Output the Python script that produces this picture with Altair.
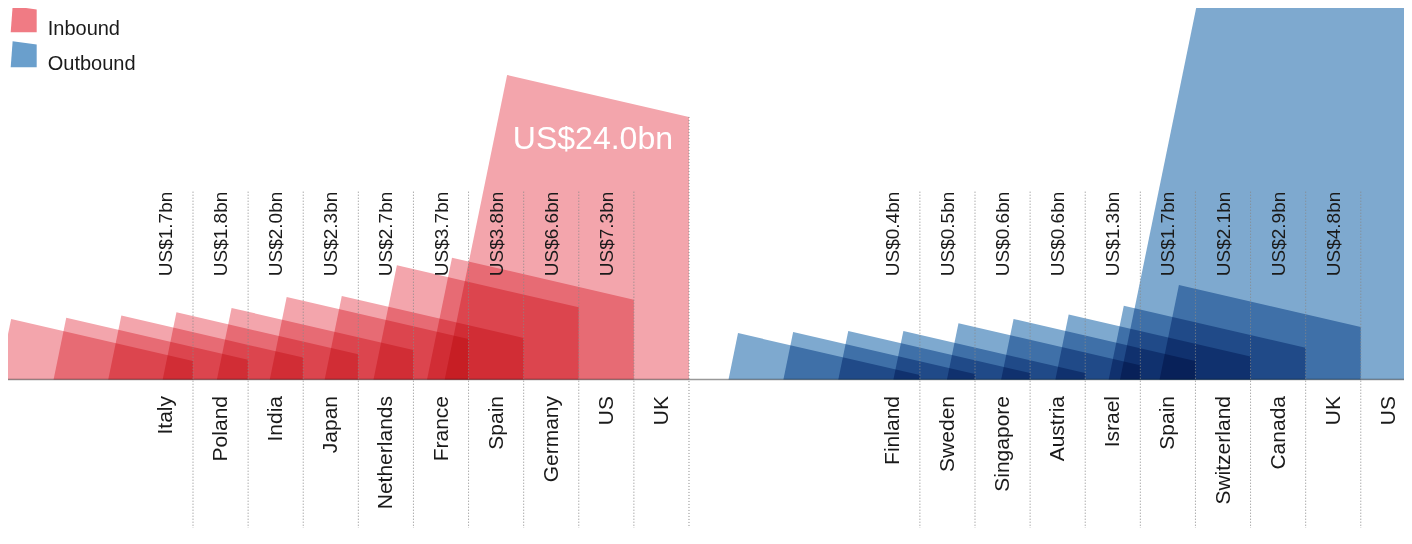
import altair as alt
import pandas as pd

# ---------------- data ----------------
inbound_countries = ["Italy", "Poland", "India", "Japan", "Netherlands",
                     "France", "Spain", "Germany", "US", "UK"]
inbound_values = [1.7, 1.8, 2.0, 2.3, 2.7, 3.7, 3.8, 6.6, 7.3, 24.0]

outbound_countries = ["Finland", "Sweden", "Singapore", "Austria", "Israel",
                      "Spain", "Switzerland", "Canada", "UK", "US"]
outbound_values = [0.4, 0.5, 0.6, 0.6, 1.3, 1.7, 2.1, 2.9, 4.8, 47.0]

flows = ["Inbound", "Outbound"]
shape_colors = ["#F3A5AC", "#7EA9CF"]
legend_colors = ["#F07B84", "#6A9FCC"]

# ---------------- layout ----------------
W, H = 1396, 520
UNIT_PX = 55.11          # pixels per slot
PX_PER_BN = 10.94        # pixels per US$bn
BASE_PX = 371.5          # baseline position in the plot
X0_PX = 129.89           # pixel of slot 0
X_DOMAIN = [-X0_PX / UNIT_PX, (W - X0_PX) / UNIT_PX]
Y_DOMAIN = [(BASE_PX - H) / PX_PER_BN, BASE_PX / PX_PER_BN]
GROUP_OFFSET = {"Inbound": 0.0, "Outbound": 13.19}
TOP_WIDTH = 3.30         # slots
DEPTH = 3.84             # extra height at the back edge (bn units)
SLANT = 0.205
LABEL_TOP_PX = 183.7
LABEL_TOP_V = (BASE_PX - LABEL_TOP_PX) / PX_PER_BN
FONT = "Liberation Sans"
TEXT = "#1a1a1a"

shape_rows, div_rows = [], []
for flow, cs, vs in [("Inbound", inbound_countries, inbound_values),
                     ("Outbound", outbound_countries, outbound_values)]:
    vmax = max(vs)
    for i, (c, v) in enumerate(zip(cs, vs)):
        xr = GROUP_OFFSET[flow] + i + 1
        xtl = xr - TOP_WIDTH
        hl = v + DEPTH
        xbl = xtl - SLANT * hl * PX_PER_BN / UNIT_PX
        key = f"{flow}-{i:02d}"
        for px, py in [(xbl, 0.0), (xtl, hl), (xr, v)]:
            shape_rows.append(dict(key=key, flow=flow, px=px, py=py, base=0.0))
        div_rows.append(dict(flow=flow, country=c, v=v, xr=xr,
                             ltop=max(v, LABEL_TOP_V),
                             label=f"US${v:.1f}bn", big=(v == vmax),
                             inside=(v < Y_DOMAIN[1] - 3)))

shapes = pd.DataFrame(shape_rows)
divs = pd.DataFrame(div_rows)
legend_df = pd.DataFrame({"flow": flows})

xs = alt.Scale(domain=X_DOMAIN, zero=False, nice=False)
ys = alt.Scale(domain=Y_DOMAIN, zero=False, nice=False)

legend = alt.Legend(
    title=None, orient="none", legendX=2.7, legendY=-1.8,
    symbolType="M-0.85,-1L1,-0.75L1,1L-1,1Z", symbolSize=676,
    symbolStrokeWidth=0, symbolOpacity=1,
    labelFontSize=20, labelFont=FONT, labelColor=TEXT,
    labelOffset=11, labelBaseline="top", rowPadding=2, padding=0,
)

baseline = alt.Chart(pd.DataFrame({"v": [0.0]})).mark_rule(
    color="#999999", strokeWidth=1.5
).encode(
    y=alt.Y("v:Q", scale=ys, axis=None),
    x=alt.value(0), x2=alt.value(W),
)

area = alt.Chart(shapes).mark_area(
    blend="multiply", interpolate="linear", opacity=1
).encode(
    x=alt.X("px:Q", scale=xs, axis=None),
    y=alt.Y("py:Q", scale=ys, axis=None, stack=None),
    y2=alt.Y2("base:Q"),
    color=alt.Color("flow:N", scale=alt.Scale(domain=flows, range=shape_colors), legend=None),
    detail="key:N",
)

legend_layer = alt.Chart(legend_df).mark_square(opacity=0, size=1).encode(
    x=alt.value(-50), y=alt.value(-50),
    color=alt.Color("flow:N", scale=alt.Scale(domain=flows, range=legend_colors), legend=legend),
)

dividers = alt.Chart(divs).mark_rule(
    strokeDash=[1, 2], color="#888888", strokeWidth=1
).encode(
    x=alt.X("xr:Q", scale=xs, axis=None),
    y=alt.Y("ltop:Q", scale=ys, axis=None),
    y2=alt.value(H),
)

value_labels = alt.Chart(divs).transform_filter("!datum.big").mark_text(
    angle=270, align="right", baseline="alphabetic", dy=-21,
    fontSize=19, font=FONT, color=TEXT
).encode(
    x=alt.X("xr:Q", scale=xs, axis=None),
    y=alt.value(LABEL_TOP_PX),
    text="label:N",
)

country_labels = alt.Chart(divs).mark_text(
    angle=270, align="right", baseline="alphabetic", dy=-21,
    fontSize=21, font=FONT, color=TEXT
).encode(
    x=alt.X("xr:Q", scale=xs, axis=None),
    y=alt.value(388),
    text="country:N",
)

big_labels = alt.Chart(divs).transform_filter("datum.big && datum.inside").mark_text(
    align="right", baseline="alphabetic", dx=-16, dy=32,
    fontSize=32, font=FONT, color="white"
).encode(
    x=alt.X("xr:Q", scale=xs, axis=None),
    y=alt.Y("v:Q", scale=ys, axis=None),
    text="label:N",
)

chart = alt.layer(
    baseline, area, legend_layer, dividers, value_labels, country_labels, big_labels
).resolve_scale(color="independent").properties(
    width=W, height=H, padding=0,
    autosize=alt.AutoSizeParams(type="none"),
).configure_view(stroke=None)

chart.save("out.html", embed_options={"renderer": "svg", "actions": False})
